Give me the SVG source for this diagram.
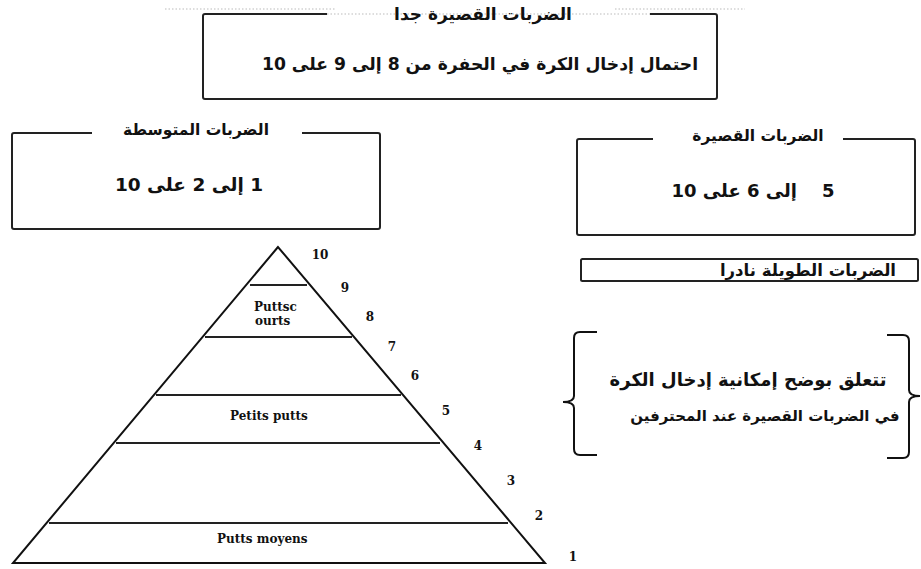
<svg xmlns="http://www.w3.org/2000/svg" width="921" height="569" viewBox="0 0 921 569">
<style>
.box{fill:none;stroke:#222;stroke-width:2}
.ar{font-family:"DejaVu Sans",sans-serif;direction:rtl;fill:#111;font-weight:bold;white-space:pre;text-anchor:middle}
.pl{fill:none;stroke:#111;stroke-width:2}
.tier{stroke:#222;stroke-width:1.8}
.num{font-family:"DejaVu Serif",serif;font-weight:bold;font-size:12px;fill:#111;text-anchor:middle}
.lab{font-family:"DejaVu Serif",serif;font-weight:bold;font-size:12px;fill:#111}
.dot{stroke:#bbb;stroke-width:1;stroke-dasharray:1.5 2}
</style>
<rect width="921" height="569" fill="#fff"/>
<g id="artifacts">
<line class="dot" x1="165" y1="9" x2="335" y2="9"/>
<line class="dot" x1="615" y1="9" x2="745" y2="9"/>
<line class="dot" x1="327" y1="14" x2="650" y2="14"/>
</g>
<g id="top-box">
<path class="box" d="M327,14 H205 Q203,14 203,16 V97 Q203,99 205,99 H715 Q717,99 717,97 V16 Q717,14 715,14 H650"/>
<text class="ar" style="font-size:17px" x="483" y="20">الضربات القصيرة جدا</text>
<text class="ar" style="font-size:17.2px" x="480" y="70">احتمال إدخال الكرة في الحفرة من 8 إلى 9 على 10</text>
</g>
<g id="medium-box">
<path class="box" d="M92,133 H14 Q12,133 12,135 V227 Q12,229 14,229 H378 Q380,229 380,227 V135 Q380,133 378,133 H302"/>
<text class="ar" style="font-size:15.5px" x="196" y="135">الضربات المتوسطة</text>
<text class="ar" style="font-size:18.5px" x="189" y="191">1 إلى 2 على 10</text>
</g>
<g id="short-box">
<path class="box" d="M653,139 H579 Q577,139 577,141 V233 Q577,235 579,235 H913 Q915,235 915,233 V141 Q915,139 913,139 H843"/>
<text class="ar" style="font-size:15.5px" x="758" y="141">الضربات القصيرة</text>
<text class="ar" style="font-size:18px" x="753" y="197">5    إلى 6 على 10</text>
</g>
<g id="long-strip">
<rect class="box" x="581" y="259" width="337" height="22" rx="1.5" stroke-width="1.6"/>
<text class="ar" style="font-size:16.5px" x="808" y="276">الضربات الطويلة نادرا</text>
</g>
<g id="brace-note">
<path class="pl" stroke-width="1.8" d="M597,332 H580 Q574,332 574,338 V396 Q574,402 563,402 Q574,402 574,408 V449 Q574,455 580,455 H597"/>
<path class="pl" stroke-width="1.8" d="M887,335 H903 Q909,335 909,341 V390 Q909,396 920,396 Q909,396 909,402 V452 Q909,458 903,458 H887"/>
<text class="ar" style="font-size:18px" x="748" y="386">تتعلق بوضح إمكانية إدخال الكرة</text>
<text class="ar" style="font-size:15px" x="765" y="421">في الضربات القصيرة عند المحترفين</text>
</g>
<g id="pyramid">
<polygon class="pl" stroke-width="2.4" points="278,247 13,563 545,563"/>
<line class="tier" x1="250" y1="285" x2="307" y2="285"/>
<line class="tier" x1="205" y1="337" x2="352" y2="337"/>
<line class="tier" x1="156" y1="395" x2="401" y2="395"/>
<line class="tier" x1="116" y1="443" x2="440" y2="443"/>
<line class="tier" x1="49" y1="523" x2="508" y2="523"/>
<text class="lab" x="254" y="311">Puttsc</text>
<text class="lab" x="255" y="325">ourts</text>
<text class="lab" x="230" y="420">Petits putts</text>
<text class="lab" x="217" y="543">Putts moyens</text>
</g>
<g id="scale">
<text class="num" x="320" y="259">10</text>
<text class="num" x="345" y="292">9</text>
<text class="num" x="370" y="321">8</text>
<text class="num" x="392" y="351">7</text>
<text class="num" x="415" y="380">6</text>
<text class="num" x="446" y="415">5</text>
<text class="num" x="478" y="450">4</text>
<text class="num" x="511" y="485">3</text>
<text class="num" x="539" y="520">2</text>
<text class="num" x="573" y="561">1</text>
</g>
</svg>
